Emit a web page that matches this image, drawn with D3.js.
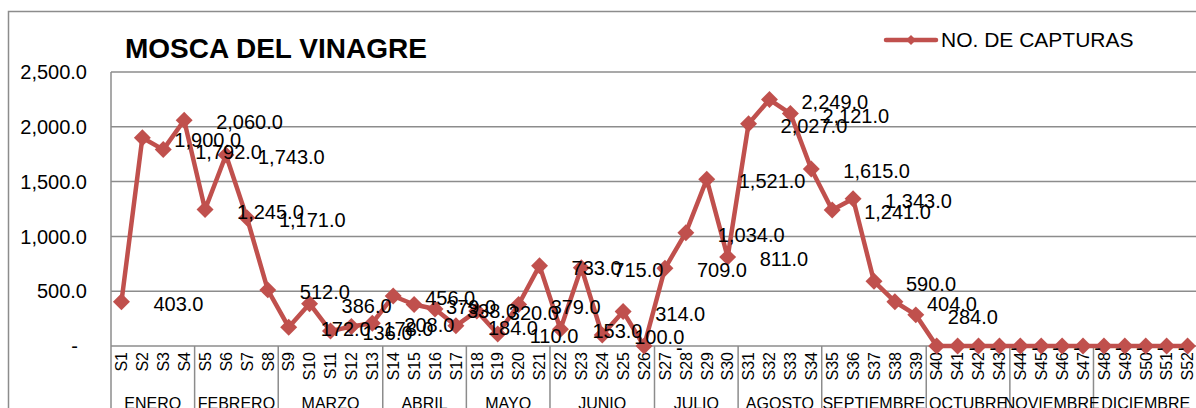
<!DOCTYPE html>
<html>
<head>
<meta charset="utf-8">
<script src="https://cdn.jsdelivr.net/npm/d3@7"></script>
<style>
  body { margin: 0; background: #fff; }
  svg text { font-family: "Liberation Sans", Arial, sans-serif; fill: #000; }
</style>
</head>
<body>
<div id="chart"></div>
<script>

// data
const weeks = ["S1","S2","S3","S4","S5","S6","S7","S8","S9","S10","S11","S12","S13",
  "S14","S15","S16","S17","S18","S19","S20","S21","S22","S23","S24","S25","S26",
  "S27","S28","S29","S30","S31","S32","S33","S34","S35","S36","S37","S38","S39",
  "S40","S41","S42","S43","S44","S45","S46","S47","S48","S49","S50","S51","S52"];

const capturas = [403, 1900, 1792, 2060, 1245, 1743, 1171, 512, 172, 386, 136, 178, 208,
  456, 379, 338, 184, 320, 110, 379, 733, 153, 715, 100, 314, 0,
  709, 1034, 1521, 811, 2027, 2249, 2121, 1615, 1241, 1343, 590, 404, 284,
  0, 0, 0, 0, 0, 0, 0, 0, 0, 0, 0, 0, 0];

const months = ["ENERO", "FEBRERO", "MARZO", "ABRIL", "MAYO", "JUNIO", "JULIO",
  "AGOSTO", "SEPTIEMBRE", "OCTUBRE", "NOVIEMBRE", "DICIEMBRE"];
const weeksPerMonth = [4, 4, 5, 4, 4, 5, 4, 4, 5, 4, 4, 5];

const yTicks = [0, 500, 1000, 1500, 2000, 2500];

const seriesName = "NO. DE CAPTURAS";
const title = "MOSCA DEL VINAGRE";

const data = weeks.map((w, i) => ({ week: w, value: capturas[i] }));

const width = 1196;
const height = 408;
const plot = { left: 111, right: 1198, top: 72, bottom: 346 };
const red = "#c0504d";
const grey = "#8c8c8c";

const svg = d3.select("#chart")
  .append("svg")
  .attr("width", width)
  .attr("height", height);

/* outer chart border */
svg.append("rect")
  .attr("x", 8.5).attr("y", 11.5)
  .attr("width", 1300).attr("height", 500)
  .attr("fill", "none")
  .attr("stroke", grey)
  .attr("stroke-width", 1.5);

/* scales */
const x = d3.scaleBand()
  .domain(weeks)
  .range([plot.left, plot.right])
  .padding(0);

const y = d3.scaleLinear()
  .domain([0, 2500])
  .range([plot.bottom, plot.top]);

const cx = d => x(d) + x.bandwidth() / 2;
const num = d3.format(",.1f");
const fmt = v => v === 0 ? "-" : num(v);

/* gridlines + y labels */
const yAxis = svg.append("g").attr("class", "y-axis");
yAxis.selectAll("line")
  .data(yTicks.filter(t => t > 0))
  .enter()
  .append("line")
  .attr("x1", plot.left).attr("x2", plot.right)
  .attr("y1", d => y(d)).attr("y2", d => y(d))
  .attr("stroke", grey)
  .attr("stroke-width", 1.5);

yAxis.selectAll("text")
  .data(yTicks)
  .enter()
  .append("text")
  .attr("x", d => d === 0 ? 78 : 87)
  .attr("y", d => y(d))
  .attr("dy", "0.36em")
  .attr("text-anchor", "end")
  .style("font-size", "20px")
  .text(fmt);

/* plot left edge, carried down through the category area */
svg.append("line")
  .attr("x1", plot.left).attr("x2", plot.left)
  .attr("y1", plot.top).attr("y2", height)
  .attr("stroke", grey).attr("stroke-width", 1.5);

/* category axis line */
svg.append("line")
  .attr("x1", plot.left).attr("x2", plot.right)
  .attr("y1", plot.bottom).attr("y2", plot.bottom)
  .attr("stroke", grey).attr("stroke-width", 1.5);

/* week labels */
svg.append("g")
  .selectAll("text")
  .data(weeks)
  .enter()
  .append("text")
  .attr("transform", d => `translate(${cx(d)},${plot.bottom + 6}) rotate(-90)`)
  .attr("dy", "0.36em")
  .attr("text-anchor", "end")
  .style("font-size", "16px")
  .text(d => d);

/* month groups */
let start = 0;
const groups = months.map((m, i) => {
  const g = { name: m, first: weeks[start], last: weeks[start + weeksPerMonth[i] - 1] };
  start += weeksPerMonth[i];
  return g;
});

svg.append("g")
  .selectAll("line")
  .data(groups)
  .enter()
  .append("line")
  .attr("x1", d => x(d.last) + x.bandwidth())
  .attr("x2", d => x(d.last) + x.bandwidth())
  .attr("y1", plot.bottom).attr("y2", height)
  .attr("stroke", grey).attr("stroke-width", 1.5);

svg.append("g")
  .selectAll("text")
  .data(groups)
  .enter()
  .append("text")
  .attr("x", d => (x(d.first) + x(d.last) + x.bandwidth()) / 2)
  .attr("y", 409)
  .attr("text-anchor", "middle")
  .style("font-size", "16px")
  .text(d => d.name);

/* series line */
const line = d3.line()
  .x(d => cx(d.week))
  .y(d => y(d.value));

svg.append("path")
  .datum(data)
  .attr("d", line)
  .attr("fill", "none")
  .attr("stroke", red)
  .attr("stroke-width", 4.5)
  .attr("stroke-linejoin", "round");

const diamond = d3.symbol().type(d3.symbolSquare).size(144);

svg.append("g")
  .selectAll("path")
  .data(data)
  .enter()
  .append("path")
  .attr("d", diamond)
  .attr("transform", d => `translate(${cx(d.week)},${y(d.value)}) rotate(45)`)
  .attr("fill", red);

/* data labels */
svg.append("g")
  .selectAll("text")
  .data(data)
  .enter()
  .append("text")
  .attr("x", d => cx(d.week) + 32)
  .attr("y", d => y(d.value) + 2)
  .attr("dy", "0.36em")
  .style("font-size", "20px")
  .text(d => fmt(d.value));

/* title */
svg.append("text")
  .attr("x", 125)
  .attr("y", 58)
  .style("font-size", "28px")
  .style("font-weight", "bold")
  .text(title);

/* legend */
const legend = svg.append("g");
legend.append("line")
  .attr("x1", 886).attr("x2", 936)
  .attr("y1", 40).attr("y2", 40)
  .attr("stroke", red)
  .attr("stroke-width", 4.5)
  .attr("stroke-linecap", "round");
legend.append("path")
  .attr("d", d3.symbol().type(d3.symbolSquare).size(50))
  .attr("transform", "translate(911,40) rotate(45)")
  .attr("fill", red);
legend.append("text")
  .attr("x", 941)
  .attr("y", 47)
  .style("font-size", "21px")
  .text(seriesName);

</script>
</body>
</html>
